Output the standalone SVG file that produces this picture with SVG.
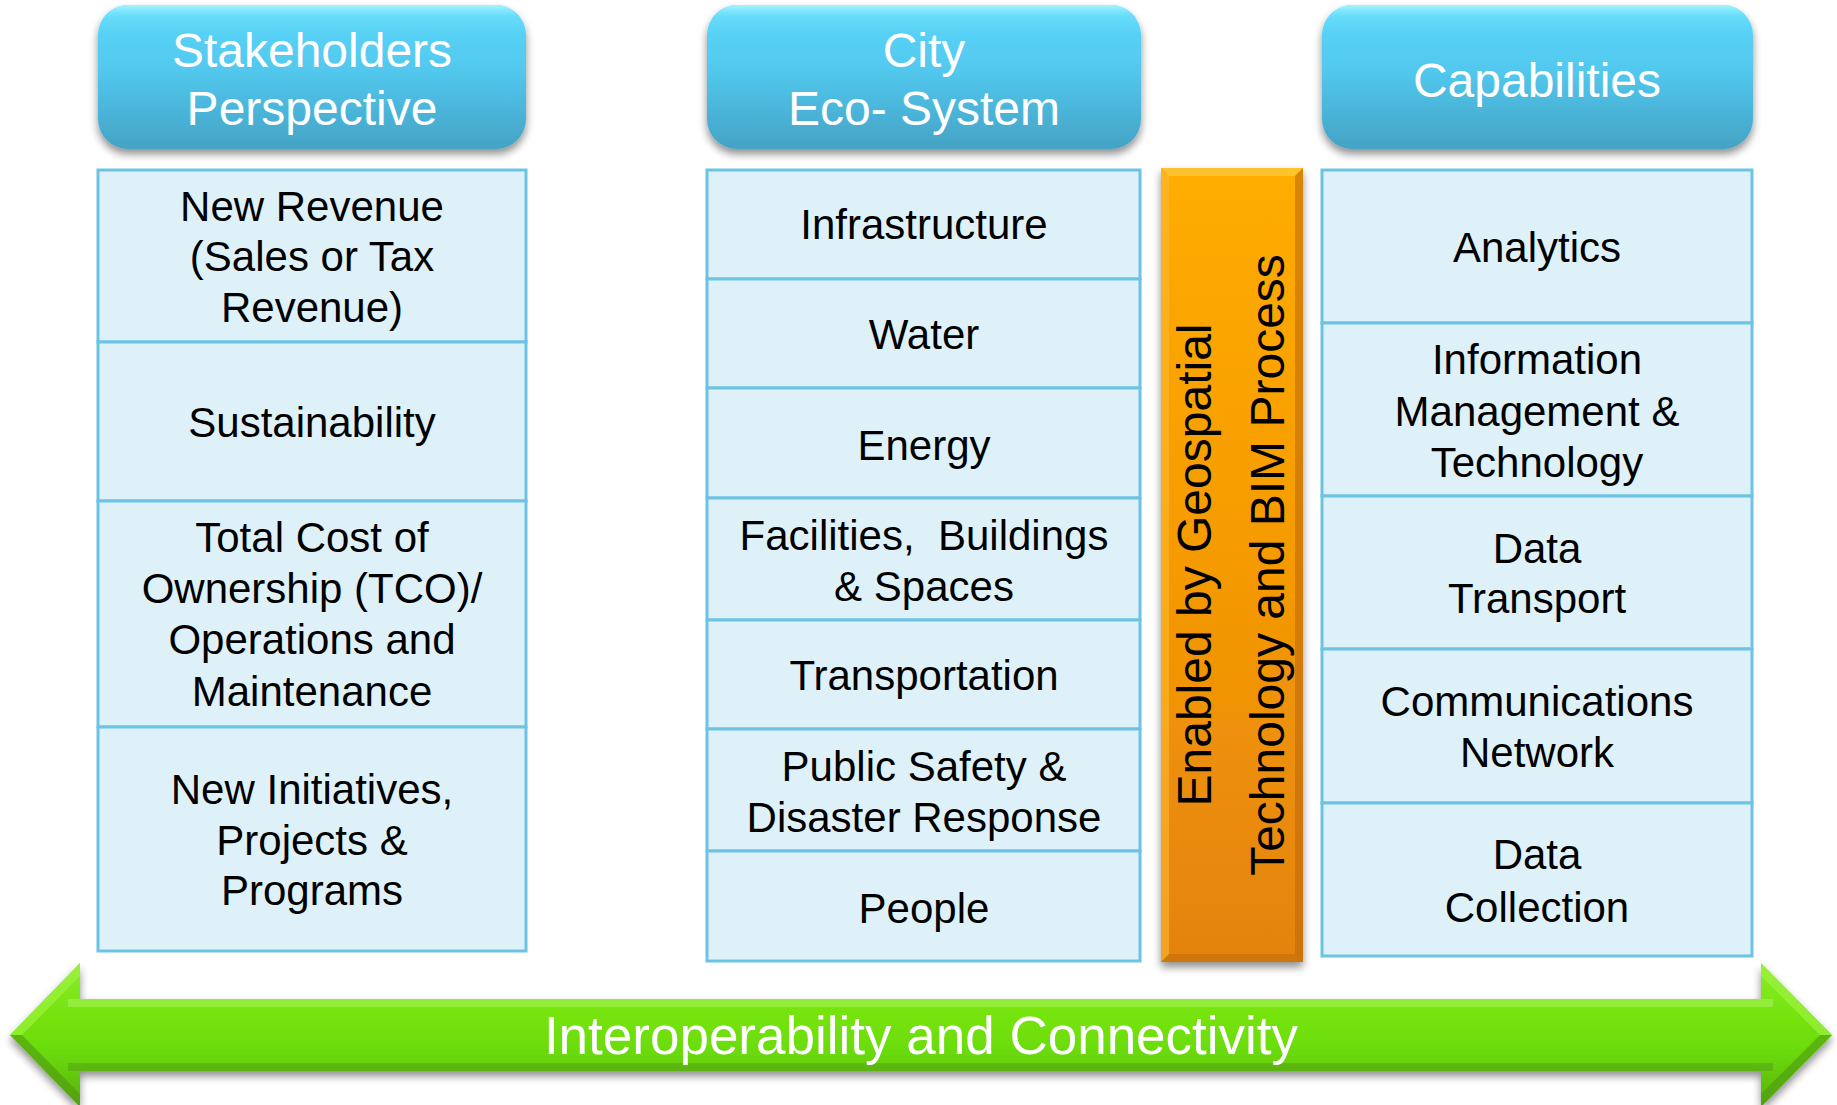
<svg xmlns="http://www.w3.org/2000/svg" width="1837" height="1105" viewBox="0 0 1837 1105">
<defs>
<style>
.hdr{fill:url(#hdrGrad);filter:url(#shadow)}
.hdrHi{fill:url(#hdrHiGrad)}
.htxt{font-family:"Liberation Sans",Arial,sans-serif;font-size:48px;fill:#ffffff;text-anchor:middle}
.cell{fill:#DFF1F8;stroke:#6CC4E4;stroke-width:3}
.ctxt{font-family:"Liberation Sans",Arial,sans-serif;font-size:42px;fill:#000000;text-anchor:middle}
.otxt{font-family:"Liberation Sans",Arial,sans-serif;font-size:48px;fill:#000000;text-anchor:middle}
.gtxt{font-family:"Liberation Sans",Arial,sans-serif;font-size:53px;fill:#ffffff;text-anchor:middle}
</style>
<linearGradient id="hdrGrad" x1="0" y1="0" x2="0" y2="1">
<stop offset="0" stop-color="#5CD8FB"/>
<stop offset="0.45" stop-color="#52C8EE"/>
<stop offset="1" stop-color="#44A3C5"/>
</linearGradient>
<linearGradient id="hdrHiGrad" x1="0" y1="0" x2="0" y2="1">
<stop offset="0" stop-color="#B8FBFF" stop-opacity="0.8"/>
<stop offset="0.08" stop-color="#8EEFFF" stop-opacity="0.25"/>
<stop offset="0.2" stop-color="#8EEFFF" stop-opacity="0"/>
</linearGradient>
<linearGradient id="orgGrad" x1="0" y1="0" x2="0" y2="1">
<stop offset="0" stop-color="#FFAD02"/>
<stop offset="0.5" stop-color="#F59A05"/>
<stop offset="1" stop-color="#E4830A"/>
</linearGradient>
<linearGradient id="grnGrad" x1="0" y1="963" x2="0" y2="1107" gradientUnits="userSpaceOnUse">
<stop offset="0" stop-color="#8DEB2E"/>
<stop offset="0.3" stop-color="#78E512"/>
<stop offset="0.6" stop-color="#6BDC06"/>
<stop offset="1" stop-color="#5AB012"/>
</linearGradient>
<filter id="shadow" x="-10%" y="-10%" width="120%" height="130%">
<feGaussianBlur in="SourceAlpha" stdDeviation="4"/>
<feOffset dx="0" dy="5" result="b"/>
<feComponentTransfer><feFuncA type="linear" slope="0.45"/></feComponentTransfer>
<feMerge><feMergeNode/><feMergeNode in="SourceGraphic"/></feMerge>
</filter>
</defs>
<rect x="0" y="0" width="1837" height="1105" fill="#ffffff"/>

<!-- Headers -->
<g id="header-stakeholders">
<rect class="hdr" x="98" y="5" width="428" height="144" rx="30"/>
<rect class="hdrHi" x="98" y="5" width="428" height="144" rx="30"/>
<text class="htxt" x="312" y="67">Stakeholders</text>
<text class="htxt" x="312" y="125">Perspective</text>
</g>
<g id="header-city">
<rect class="hdr" x="707" y="5" width="434" height="144" rx="30"/>
<rect class="hdrHi" x="707" y="5" width="434" height="144" rx="30"/>
<text class="htxt" x="924" y="67">City</text>
<text class="htxt" x="924" y="125">Eco- System</text>
</g>
<g id="header-capabilities">
<rect class="hdr" x="1322" y="5" width="431" height="144" rx="30"/>
<rect class="hdrHi" x="1322" y="5" width="431" height="144" rx="30"/>
<text class="htxt" x="1537" y="97">Capabilities</text>
</g>

<!-- Column 1 -->
<g id="new-revenue">
<rect class="cell" x="98" y="170" width="428" height="172"/>
<text class="ctxt" x="312" y="221">New Revenue</text>
<text class="ctxt" x="312" y="271">(Sales or Tax</text>
<text class="ctxt" x="312" y="322">Revenue)</text>
</g>
<g id="sustainability">
<rect class="cell" x="98" y="342" width="428" height="159"/>
<text class="ctxt" x="312" y="437">Sustainability</text>
</g>
<g id="tco">
<rect class="cell" x="98" y="501" width="428" height="226"/>
<text class="ctxt" x="312" y="552">Total Cost of</text>
<text class="ctxt" x="312" y="603">Ownership (TCO)/</text>
<text class="ctxt" x="312" y="654">Operations and</text>
<text class="ctxt" x="312" y="706">Maintenance</text>
</g>
<g id="new-initiatives">
<rect class="cell" x="98" y="727" width="428" height="224"/>
<text class="ctxt" x="312" y="804">New Initiatives,</text>
<text class="ctxt" x="312" y="855">Projects &amp;</text>
<text class="ctxt" x="312" y="905">Programs</text>
</g>

<!-- Column 2 -->
<g id="infrastructure">
<rect class="cell" x="707" y="170" width="433" height="109"/>
<text class="ctxt" x="924" y="239">Infrastructure</text>
</g>
<g id="water">
<rect class="cell" x="707" y="279" width="433" height="109"/>
<text class="ctxt" x="924" y="349">Water</text>
</g>
<g id="energy">
<rect class="cell" x="707" y="388" width="433" height="110"/>
<text class="ctxt" x="924" y="460">Energy</text>
</g>
<g id="facilities">
<rect class="cell" x="707" y="498" width="433" height="122"/>
<text class="ctxt" x="924" y="550" xml:space="preserve">Facilities,  Buildings</text>
<text class="ctxt" x="924" y="601">&amp; Spaces</text>
</g>
<g id="transportation">
<rect class="cell" x="707" y="620" width="433" height="109"/>
<text class="ctxt" x="924" y="690">Transportation</text>
</g>
<g id="public-safety">
<rect class="cell" x="707" y="729" width="433" height="122"/>
<text class="ctxt" x="924" y="781">Public Safety &amp;</text>
<text class="ctxt" x="924" y="832">Disaster Response</text>
</g>
<g id="people">
<rect class="cell" x="707" y="851" width="433" height="110"/>
<text class="ctxt" x="924" y="923">People</text>
</g>

<!-- Orange enabler bar -->
<g id="enabler">
<rect x="1161" y="168" width="142" height="794" fill="url(#orgGrad)" filter="url(#shadow)"/>
<polygon points="1161,168 1303,168 1295,176 1169,176" fill="#FFC83A" opacity="0.8"/>
<polygon points="1161,168 1169,176 1169,954 1161,962" fill="#FFB832" opacity="0.6"/>
<polygon points="1303,168 1295,176 1295,954 1303,962" fill="#B8660C" opacity="0.55"/>
<polygon points="1161,962 1169,954 1295,954 1303,962" fill="#C06E0C" opacity="0.6"/>
<text class="otxt" transform="translate(1211,565) rotate(-90)" x="0" y="0">Enabled by Geospatial</text>
<text class="otxt" transform="translate(1284,565) rotate(-90)" x="0" y="0">Technology and BIM Process</text>
</g>

<!-- Column 3 -->
<g id="analytics">
<rect class="cell" x="1322" y="170" width="430" height="153"/>
<text class="ctxt" x="1537" y="262">Analytics</text>
</g>
<g id="information-management">
<rect class="cell" x="1322" y="323" width="430" height="173"/>
<text class="ctxt" x="1537" y="374">Information</text>
<text class="ctxt" x="1537" y="426">Management &amp;</text>
<text class="ctxt" x="1537" y="477">Technology</text>
</g>
<g id="data-transport">
<rect class="cell" x="1322" y="496" width="430" height="153"/>
<text class="ctxt" x="1537" y="563">Data</text>
<text class="ctxt" x="1537" y="613">Transport</text>
</g>
<g id="communications">
<rect class="cell" x="1322" y="649" width="430" height="154"/>
<text class="ctxt" x="1537" y="716">Communications</text>
<text class="ctxt" x="1537" y="767">Network</text>
</g>
<g id="data-collection">
<rect class="cell" x="1322" y="803" width="430" height="153"/>
<text class="ctxt" x="1537" y="869">Data</text>
<text class="ctxt" x="1537" y="922">Collection</text>
</g>

<!-- Connectors: double-headed interoperability arrow -->
<g id="connectors">
<g id="interoperability-arrow">
<polygon points="10,1035 80,963 80,999 1761,999 1761,963 1832,1035 1761,1107 1761,1071 80,1071 80,1107" fill="url(#grnGrad)" filter="url(#shadow)"/>
<polygon points="10,1035 80,963 80,976 22,1035" fill="#9BF23E" opacity="0.7"/>
<polygon points="10,1035 22,1035 80,1094 80,1107" fill="#4E9A10" opacity="0.6"/>
<polygon points="1832,1035 1761,963 1761,976 1820,1035" fill="#9BF23E" opacity="0.7"/>
<polygon points="1832,1035 1820,1035 1761,1094 1761,1107" fill="#4E9A10" opacity="0.6"/>
<rect x="68" y="999" width="1705" height="8" fill="#A8F25A" opacity="0.55"/>
<rect x="68" y="1063" width="1705" height="8" fill="#4F9A14" opacity="0.45"/>
<text class="gtxt" x="921" y="1054">Interoperability and Connectivity</text>
</g>
</g>
</svg>
